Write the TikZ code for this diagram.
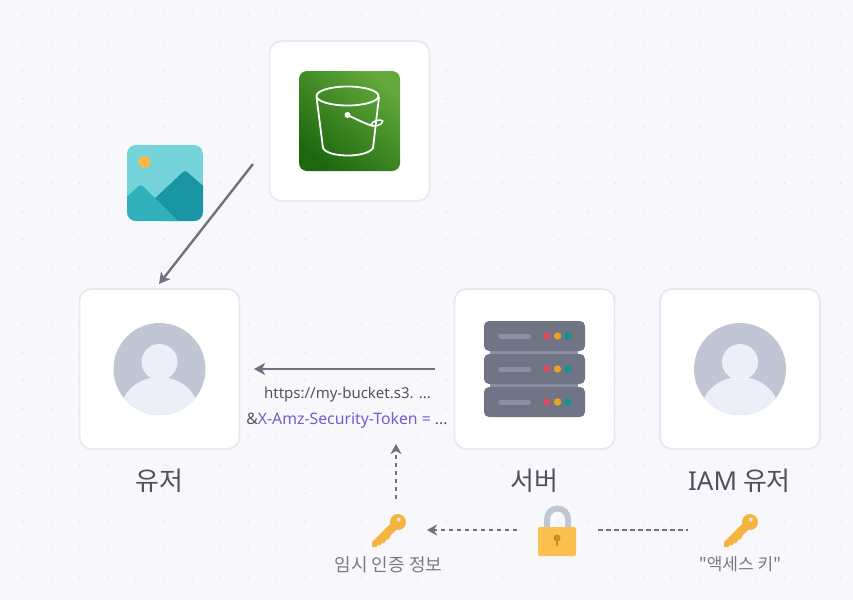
\documentclass[tikz,border=0pt]{standalone}
\usepackage{fontspec}
\setmainfont{Noto Sans CJK KR}
\newfontfamily\latinf{Noto Sans}
\newfontfamily\qfont{Noto Sans CJK KR}[Ligatures=ResetAll]
\usetikzlibrary{arrows.meta}
\definecolor{bgc}{HTML}{F8F8FC}
\definecolor{dotc}{HTML}{E3E4EC}
\definecolor{cardline}{HTML}{E7E9F2}
\definecolor{arrowc}{HTML}{70737F}
\definecolor{labelc}{HTML}{4E525E}
\definecolor{subc}{HTML}{777A85}
\definecolor{tokenc}{HTML}{6A60D2}
\definecolor{rackc}{HTML}{6F7585}
\definecolor{rackl}{HTML}{8B90A0}
\definecolor{persond}{HTML}{C0C6D3}
\definecolor{personl}{HTML}{ECEFF7}
\definecolor{keyc}{HTML}{F5B43F}
\definecolor{lockc}{HTML}{FBC04F}
\definecolor{lockh}{HTML}{C98F22}
\definecolor{ledr}{HTML}{DE4A5F}
\definecolor{ledy}{HTML}{E8A21F}
\definecolor{ledg}{HTML}{14938F}
\definecolor{sthree}{HTML}{1D680F}
\definecolor{sthreeb}{HTML}{62A83A}
\definecolor{imgsky}{HTML}{74D4DA}
\definecolor{imgsun}{HTML}{FBB848}
\definecolor{imgm}{HTML}{1A95A3}
\definecolor{imgn}{HTML}{2FB0BB}
\tikzset{
  x=1pt,y=-1pt,
  card/.style={draw=cardline,line width=1.8pt,fill=white,rounded corners=12pt,minimum width=160pt,minimum height=160pt,inner sep=0pt},
  solidarrow/.style={draw=arrowc,line width=2.4pt,-{Stealth[length=11pt,width=12pt,inset=3pt]}},
  dasharrow/.style={draw=arrowc,line width=2pt,dash pattern=on 4.5pt off 3.5pt,-{Stealth[length=10pt,width=11pt,inset=3pt]}},
  dashline/.style={draw=arrowc,line width=1.8pt,dash pattern=on 4.5pt off 3.5pt},
  biglabel/.style={text=labelc,font=\fontsize{26}{30}\selectfont,inner sep=0pt},
  sublabel/.style={text=subc,font=\fontsize{18}{20}\selectfont,inner sep=0pt},
  urllabel/.style={text=subc!70!black,font=\latinf\fontsize{15}{18}\selectfont,inner sep=0pt},
  tokenlabel/.style={text=subc!70!black,font=\latinf\fontsize{15.8}{18}\selectfont,inner sep=0pt},
  keyicon/.pic={
    \fill[keyc] (0,0) circle (8);
    \fill[keyc] (-5,-1) -- (-26,20) -- (-26,25) -- (-22,25) -- (-19,22.5) -- (-18,23.5) -- (-15.5,20.5) -- (-14,21.5) -- (-11.5,17) -- (-10,18) -- (-7,13) -- (3,3) -- cycle;
    \fill[bgc!70!keyc] (0.8,-2.3) circle (2);
  },
  personicon/.pic={
    \fill[persond] (0,0) circle (46);
    \begin{scope}
      \clip (0,0) circle (46);
      \fill[personl] (0,43) ellipse (39 and 35);
    \end{scope}
    \fill[personl] (0,-7) circle (18);
  },
  rackicon/.pic={
    \fill[rackc,rounded corners=5pt] (-50.5,-15) rectangle (50.5,15);
    \draw[rackl,line width=5pt,line cap=round] (-34,0) -- (-6,0);
    \fill[ledr] (12.5,0) circle (3.7);
    \fill[ledy] (23,0) circle (3.7);
    \fill[ledg] (33.5,0) circle (3.7);
  },
}
\begin{document}
\begin{tikzpicture}
\useasboundingbox (0,0) rectangle (853,600);
\fill[bgc] (0,0) rectangle (853,600);
% dot grid
\foreach \i in {0,...,30}{\foreach \j in {0,...,21}{
  \fill[dotc] (23+28.2*\i,14+28.2*\j) circle (0.9);
}}
% cards
\node[card] (s3) at (349.5,121) {};
\node[card] (user) at (159.5,369) {};
\node[card] (server) at (534.5,369) {};
\node[card] (iam) at (740,369) {};
% s3 icon
\shade[bottom color=sthree,top color=sthreeb,shading angle=-40,rounded corners=8pt] (299,71) rectangle (400,171);
% bucket
\begin{scope}[draw=white,line width=1.8pt]
  \draw (347.5,96) ellipse (31 and 9.5);
  \draw (316.5,97) -- (323,148) .. controls (328,158) and (367,158) .. (373,148) -- (379,97);
  \draw (347.5,115) .. controls (358,120) and (366,124) .. (373,126);
  \draw[line width=1.5pt,rotate around={18:(377,123)}] (377,123) ellipse (6 and 2.5);
  \fill[white] (347.5,115) circle (3);
\end{scope}
% image icon
\begin{scope}
  \clip[rounded corners=9pt] (127,145) rectangle (203,221);
  \fill[imgsky] (127,145) rectangle (203,221);
  \fill[imgsun] (144.5,162) circle (6);
  \fill[imgm,rounded corners=3pt] (150,203) -- (185,170) -- (210,192) -- (210,225) -- (170,225) -- cycle;
  \fill[imgn,rounded corners=3pt] (120,203) -- (141,184) -- (185,228) -- (120,228) -- cycle;
\end{scope}
% people
\pic at (159.5,369) {personicon};
\pic at (740,369) {personicon};
% server
\fill[rackl] (490,349) rectangle (578,389);
\pic at (534.5,336) {rackicon};
\pic at (534.5,369) {rackicon};
\pic at (534.5,402) {rackicon};
% lock
\draw[persond,line width=6pt] (547,530) -- (547,519) arc[start angle=180,end angle=360,radius=10.5] -- (568,530);
\node[fill=lockc,rounded corners=1.5pt,minimum width=38pt,minimum height=29pt,inner sep=0pt] (lock) at (557,541.5) {};
\fill[lockh] (557,538) circle (3.5);
\fill[lockh] (555.7,538) rectangle (558.3,546);
% keys
\pic at (398,522) {keyicon};
\pic at (750,522) {keyicon};
% labels
\node[biglabel] (userlabel) at (159.5,481) {유저};
\node[biglabel] (serverlabel) at (534,481) {서버};
\node[biglabel] (iamlabel) at (739.5,481) {{\latinf\fontsize{26}{30}\selectfont IAM} 유저};
\node[urllabel] (url1) at (347.5,395) {https://my-bucket.s3. ...};
\node[tokenlabel] (url2) at (347,420) {\&\textcolor{tokenc}{X-Amz-Security-Token =} ...};
\node[sublabel] (tmplabel) at (388.5,565) {임시 인증 정보};
\node[sublabel,font=\qfont\fontsize{17}{20}\selectfont] (akeylabel) at (740,564) {"액세스 키"};
% connector ends
\coordinate (a1) at (253,164);
\coordinate (a2) at (159,284);
\coordinate (b1) at (435,369);
\coordinate (b2) at (254,369);
\coordinate (c1) at (396,499);
\coordinate (c2) at (396,444);
\coordinate (d1) at (517,530);
\coordinate (d2) at (427,530);
\coordinate (e1) at (598,530);
\coordinate (e2) at (688,530);
\draw[solidarrow] (a1) -- (a2);
\draw[solidarrow] (b1) -- (b2);
\draw[dasharrow] (c1) -- (c2);
\draw[dasharrow] (d1) -- (d2);
\draw[dashline] (e1) -- (e2);
\end{tikzpicture}
\end{document}
